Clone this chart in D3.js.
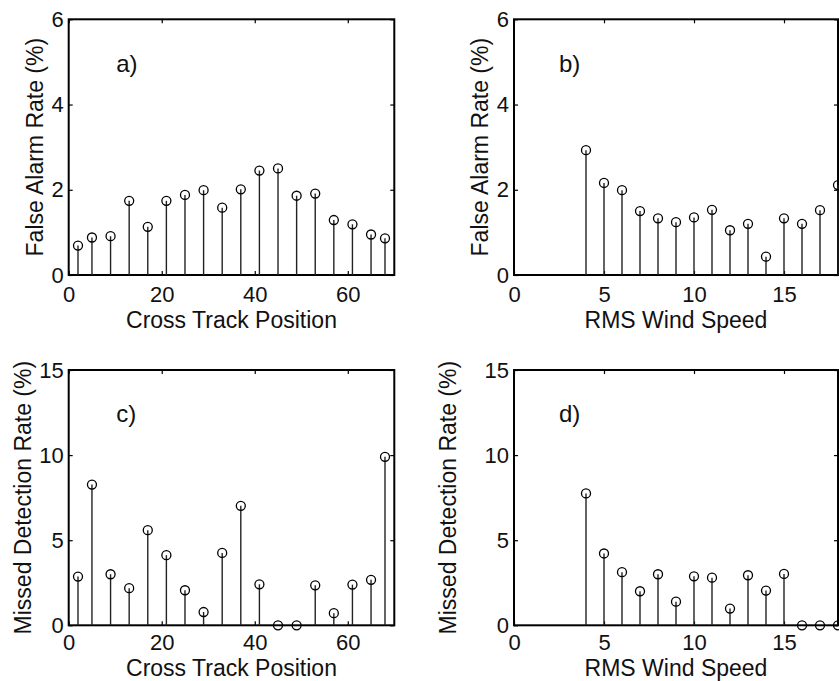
<!DOCTYPE html>
<html>
<head>
<meta charset="utf-8">
<script src="https://cdn.jsdelivr.net/npm/d3@7.9.0/dist/d3.min.js"></script>
<style>
  body { margin: 0; background: #fff; }
  svg { display: block; font-family: "Liberation Sans", Arial, sans-serif; }
</style>
</head>
<body>
<svg id="chart" width="839" height="681"></svg>
<script>
// positions along each x axis
const crossTrack = [2, 5, 9, 13, 17, 21, 25, 29, 33, 37, 41, 45, 49, 53, 57, 61, 65, 68];
const windSpeed = [4, 5, 6, 7, 8, 9, 10, 11, 12, 13, 14, 15, 16, 17, 18];

// rates (%)
const falseAlarmCross = [0.69, 0.88, 0.91, 1.74, 1.13, 1.74, 1.88, 1.99, 1.58, 2.01, 2.45, 2.5, 1.86, 1.91, 1.29, 1.19, 0.95, 0.86];
const falseAlarmWind = [2.93, 2.16, 1.99, 1.5, 1.33, 1.24, 1.35, 1.53, 1.05, 1.2, 0.43, 1.33, 1.2, 1.52, 2.11];
const missedCross = [2.86, 8.27, 3.0, 2.18, 5.59, 4.12, 2.06, 0.78, 4.25, 7.02, 2.41, 0, 0, 2.35, 0.71, 2.39, 2.67, 9.9];
const missedWind = [7.75, 4.22, 3.12, 2.0, 3.0, 1.39, 2.88, 2.8, 0.98, 2.94, 2.04, 3.02, 0, 0, 0];

const crossTicks = [0, 20, 40, 60];
const windTicks = [0, 5, 10, 15];
const falseTicks = [0, 2, 4, 6];
const missedTicks = [0, 5, 10, 15];

const svg = d3.select('#chart');
const tickFont = 22;
const titleFont = 23;

const panels = [
  { tag: 'a)', xs: crossTrack, ys: falseAlarmCross, xDomain: [0, 70], yDomain: [0, 6],
    xTicks: crossTicks, yTicks: falseTicks, xLabel: 'Cross Track Position', yLabel: 'False Alarm Rate (%)',
    left: 68.7, right: 394.3, top: 19.3, bottom: 275, yTitleX: 35, xPad: 11, xTitleGap: 53, tagAt: [10.2, 4.77] },
  { tag: 'b)', xs: windSpeed, ys: falseAlarmWind, xDomain: [0, 18], yDomain: [0, 6],
    xTicks: windTicks, yTicks: falseTicks, xLabel: 'RMS Wind Speed', yLabel: 'False Alarm Rate (%)',
    left: 514, right: 838, top: 19.3, bottom: 275, yTitleX: 480, xPad: 11, xTitleGap: 53, tagAt: [2.5, 4.77] },
  { tag: 'c)', xs: crossTrack, ys: missedCross, xDomain: [0, 70], yDomain: [0, 15],
    xTicks: crossTicks, yTicks: missedTicks, xLabel: 'Cross Track Position', yLabel: 'Missed Detection Rate (%)',
    left: 68.7, right: 394.3, top: 370, bottom: 625.3, yTitleX: 23, xPad: 9, xTitleGap: 50.7, tagAt: [10.2, 11.96] },
  { tag: 'd)', xs: windSpeed, ys: missedWind, xDomain: [0, 18], yDomain: [0, 15],
    xTicks: windTicks, yTicks: missedTicks, xLabel: 'RMS Wind Speed', yLabel: 'Missed Detection Rate (%)',
    left: 514, right: 838, top: 370, bottom: 625.3, yTitleX: 447.5, xPad: 9, xTitleGap: 50.7, tagAt: [2.5, 11.96] },
];

function drawPanel(p) {
  const x = d3.scaleLinear().domain(p.xDomain).range([p.left, p.right]);
  const y = d3.scaleLinear().domain(p.yDomain).range([p.bottom, p.top]);
  const g = svg.append('g');
  const fmt = d3.format('d');

  const styleAxis = (sel) => {
    sel.attr('font-size', tickFont).attr('font-family', null);
    sel.select('.domain').remove();
    sel.selectAll('line').attr('stroke', '#000').attr('stroke-width', 1.2);
    sel.selectAll('text').attr('fill', '#111');
  };

  g.append('g').attr('transform', `translate(0,${p.bottom})`)
    .call(d3.axisBottom(x).tickValues(p.xTicks).tickFormat(fmt).tickSize(-4).tickSizeOuter(0).tickPadding(p.xPad))
    .call(styleAxis);
  g.append('g').attr('transform', `translate(0,${p.top})`)
    .call(d3.axisTop(x).tickValues(p.xTicks).tickSize(-4).tickSizeOuter(0).tickFormat(''))
    .call(styleAxis);
  g.append('g').attr('transform', `translate(${p.left},0)`)
    .call(d3.axisLeft(y).tickValues(p.yTicks).tickFormat(fmt).tickSize(-4).tickSizeOuter(0).tickPadding(5))
    .call(styleAxis);
  g.append('g').attr('transform', `translate(${p.right},0)`)
    .call(d3.axisRight(y).tickValues(p.yTicks).tickSize(-4).tickSizeOuter(0).tickFormat(''))
    .call(styleAxis);

  // box
  g.append('rect')
    .attr('x', p.left).attr('y', p.top)
    .attr('width', p.right - p.left).attr('height', p.bottom - p.top)
    .attr('fill', 'none').attr('stroke', '#000').attr('stroke-width', 2);

  const data = p.xs.map((v, i) => ({ x: v, y: p.ys[i] }));

  g.append('g').selectAll('line')
    .data(data)
    .join('line')
    .attr('x1', (d) => x(d.x)).attr('x2', (d) => x(d.x))
    .attr('y1', y(0)).attr('y2', (d) => y(d.y))
    .attr('stroke', '#222').attr('stroke-width', 1.4);

  g.append('g').selectAll('circle')
    .data(data)
    .join('circle')
    .attr('cx', (d) => x(d.x)).attr('cy', (d) => y(d.y))
    .attr('r', 4.5)
    .attr('fill', 'none').attr('stroke', '#000').attr('stroke-width', 1.3);

  g.append('text')
    .attr('x', x(p.tagAt[0])).attr('y', y(p.tagAt[1]))
    .attr('font-size', 24).attr('fill', '#111')
    .text(p.tag);

  g.append('text')
    .attr('x', (p.left + p.right) / 2).attr('y', p.bottom + p.xTitleGap)
    .attr('text-anchor', 'middle').attr('font-size', titleFont).attr('fill', '#111')
    .text(p.xLabel);

  g.append('text')
    .attr('transform', `translate(${p.yTitleX},${(p.top + p.bottom) / 2}) rotate(-90)`)
    .attr('text-anchor', 'middle').attr('dominant-baseline', 'central')
    .attr('font-size', titleFont).attr('fill', '#111')
    .text(p.yLabel);
}

panels.forEach(drawPanel);
</script>
</body>
</html>
